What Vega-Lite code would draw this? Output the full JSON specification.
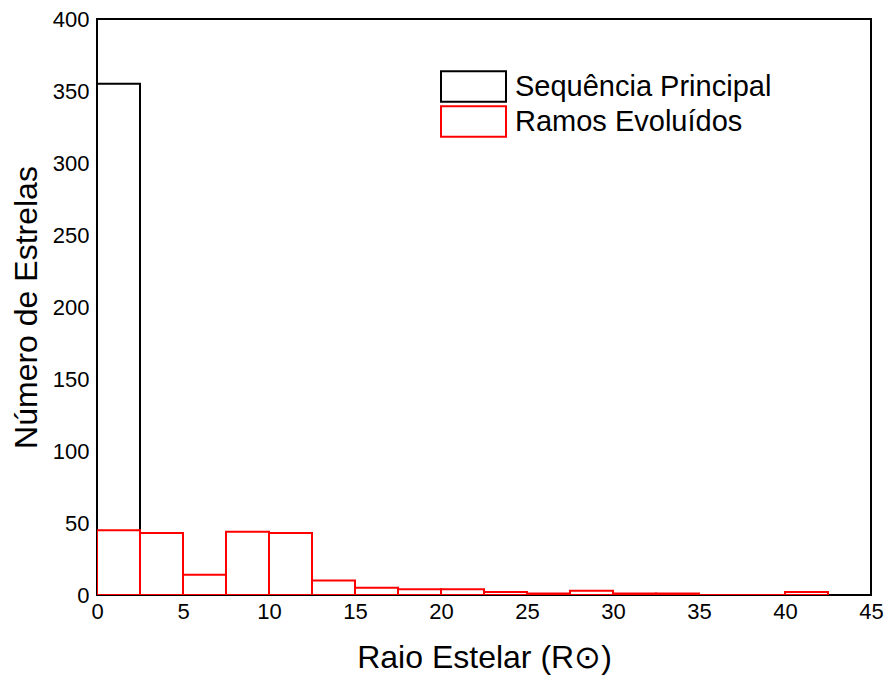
{
  "$schema": "https://vega.github.io/schema/vega-lite/v6.json",
  "width": 774,
  "height": 576,
  "autosize": "none",
  "padding": {"left": 97, "top": 19, "right": 15, "bottom": 85},
  "background": "white",
  "config": {
    "font": "Liberation Sans",
    "view": {"stroke": "black", "strokeWidth": 2},
    "axis": {
      "grid": false,
      "ticks": false,
      "domain": false,
      "labelFlush": false,
      "labelFont": "Liberation Sans",
      "labelFontSize": 22,
      "labelColor": "black",
      "titleFont": "Liberation Sans",
      "titleFontSize": 32,
      "titleFontWeight": "normal",
      "titleColor": "black"
    }
  },
  "data": {
    "values": [
      {"series": "Sequência Principal", "r0": 0, "r1": 2.5, "n": 355},
      {"series": "Ramos Evoluídos", "r0": 0, "r1": 2.5, "n": 45},
      {"series": "Ramos Evoluídos", "r0": 2.5, "r1": 5, "n": 43},
      {"series": "Ramos Evoluídos", "r0": 5, "r1": 7.5, "n": 14},
      {"series": "Ramos Evoluídos", "r0": 7.5, "r1": 10, "n": 44},
      {"series": "Ramos Evoluídos", "r0": 10, "r1": 12.5, "n": 43},
      {"series": "Ramos Evoluídos", "r0": 12.5, "r1": 15, "n": 10},
      {"series": "Ramos Evoluídos", "r0": 15, "r1": 17.5, "n": 5},
      {"series": "Ramos Evoluídos", "r0": 17.5, "r1": 20, "n": 4},
      {"series": "Ramos Evoluídos", "r0": 20, "r1": 22.5, "n": 4},
      {"series": "Ramos Evoluídos", "r0": 22.5, "r1": 25, "n": 2},
      {"series": "Ramos Evoluídos", "r0": 25, "r1": 27.5, "n": 1},
      {"series": "Ramos Evoluídos", "r0": 27.5, "r1": 30, "n": 3},
      {"series": "Ramos Evoluídos", "r0": 30, "r1": 32.5, "n": 1},
      {"series": "Ramos Evoluídos", "r0": 32.5, "r1": 35, "n": 1},
      {"series": "Ramos Evoluídos", "r0": 35, "r1": 37.5, "n": 0},
      {"series": "Ramos Evoluídos", "r0": 37.5, "r1": 40, "n": 0},
      {"series": "Ramos Evoluídos", "r0": 40, "r1": 42.5, "n": 2}
    ]
  },
  "mark": {"type": "rect", "fill": "white", "fillOpacity": 0, "strokeWidth": 2, "clip": true},
  "encoding": {
    "x": {
      "field": "r0",
      "type": "quantitative",
      "scale": {"domain": [0, 45], "nice": false},
      "axis": {"values": [0, 5, 10, 15, 20, 25, 30, 35, 40, 45], "labelPadding": 6, "title": "Raio Estelar (R⊙)", "titlePadding": 20}
    },
    "x2": {"field": "r1"},
    "y": {
      "field": "n",
      "type": "quantitative",
      "scale": {"domain": [0, 400], "nice": false},
      "axis": {"values": [0, 50, 100, 150, 200, 250, 300, 350, 400], "labelPadding": 8, "title": "Número de Estrelas", "titlePadding": 9}
    },
    "y2": {"datum": 0},
    "order": {"field": "n", "sort": "descending"},
    "stroke": {
      "field": "series",
      "type": "nominal",
      "scale": {"domain": ["Sequência Principal", "Ramos Evoluídos"], "range": ["black", "red"]},
      "legend": {
        "title": null,
        "orient": "none",
        "legendX": 343,
        "legendY": 50,
        "symbolType": "M-1,-0.47H1V0.47H-1Z",
        "symbolSize": 4225,
        "symbolFillColor": "white",
        "symbolStrokeWidth": 2,
        "symbolOpacity": 1,
        "clipHeight": 35,
        "rowPadding": 0,
        "labelFont": "Liberation Sans",
        "labelFontSize": 29,
        "labelColor": "black",
        "labelOffset": 8,
        "labelLimit": 400
      }
    }
  }
}
